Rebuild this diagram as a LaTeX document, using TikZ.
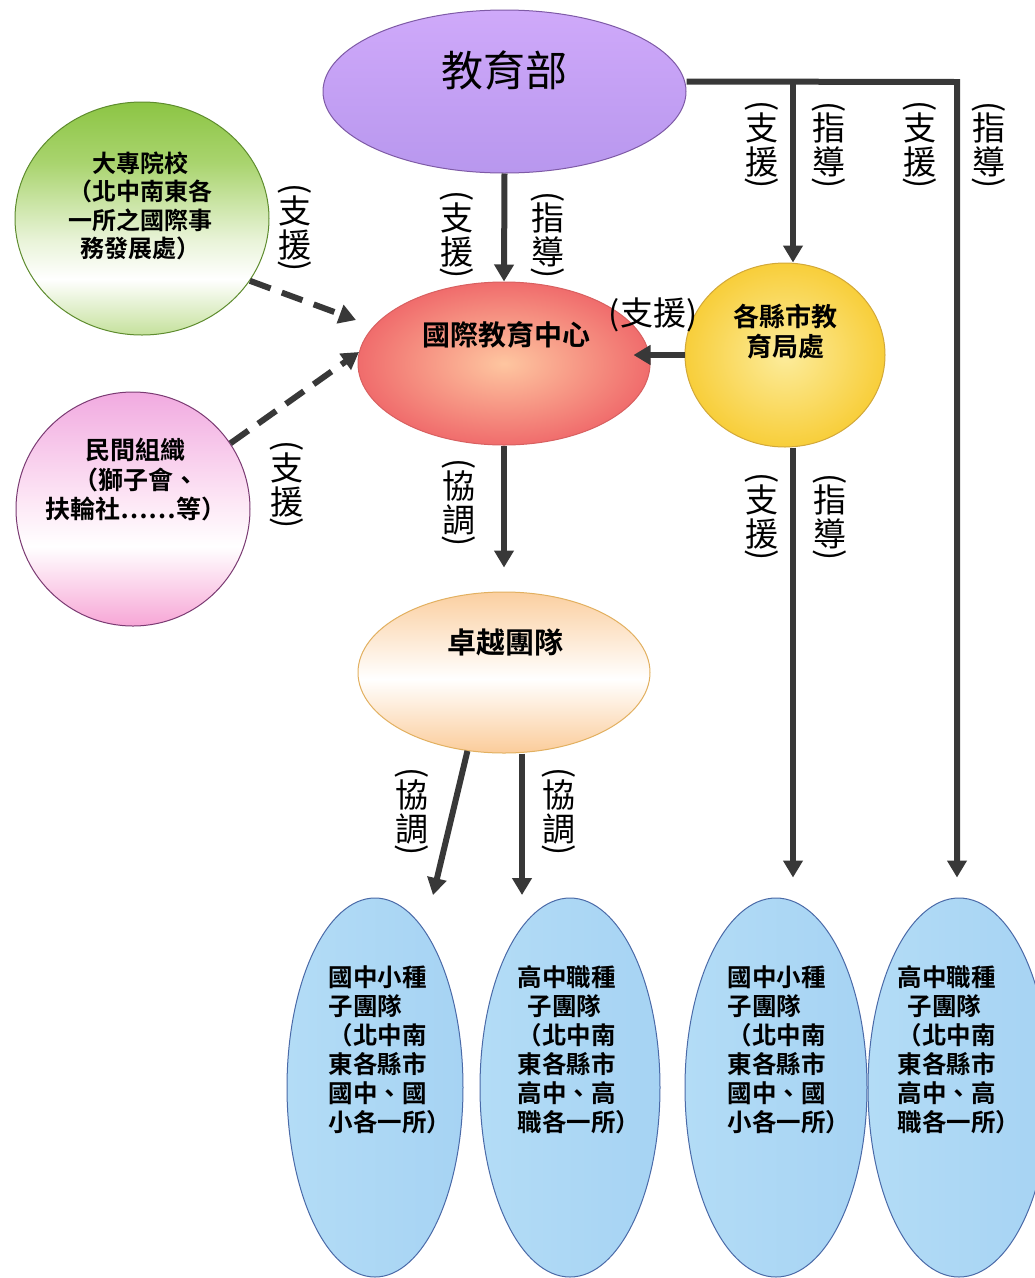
\documentclass[tikz,border=0pt]{standalone}
\usepackage{fontspec}
\usepackage{graphicx}
\usetikzlibrary{shapes.geometric,arrows.meta,calc}
\newfontfamily\cjk{Noto Sans CJK TC}
\newfontfamily\cjkb{Noto Sans CJK TC Bold}
\definecolor{linec}{HTML}{383838}
\definecolor{jybT}{HTML}{CFA9FA}
\definecolor{jybBot}{HTML}{B897EE}
\definecolor{jybB}{HTML}{7E5AA6}
\definecolor{dzA}{HTML}{8CC544}
\definecolor{dzA2}{HTML}{A9D46E}
\definecolor{dzB}{HTML}{EAF4DA}
\definecolor{dzC}{HTML}{C5E19C}
\definecolor{dzBd}{HTML}{5E8C2E}
\definecolor{gjIn}{HTML}{FEC6A0}
\definecolor{gjOut}{HTML}{F06C6C}
\definecolor{gjBd}{HTML}{D86060}
\definecolor{jkIn}{HTML}{FCEC9C}
\definecolor{jkOut}{HTML}{F8CE3A}
\definecolor{jkBd}{HTML}{D2A838}
\definecolor{mjA}{HTML}{F1AAE0}
\definecolor{mjB}{HTML}{FDE6F5}
\definecolor{mjC}{HTML}{F7A6D6}
\definecolor{mjBd}{HTML}{7A3A72}
\definecolor{zyA}{HTML}{FBCFA0}
\definecolor{zyC}{HTML}{FBCC9A}
\definecolor{zyBd}{HTML}{E2B060}
\definecolor{blL}{HTML}{B3DCF6}
\definecolor{blM}{HTML}{DCF3FD}
\definecolor{blR}{HTML}{A6D3F3}
\definecolor{blBd}{HTML}{4A6AA8}
\pgfdeclareverticalshading{dzsh}{100bp}{color(0bp)=(dzC); color(25bp)=(dzC); color(37bp)=(white); color(45bp)=(dzB); color(62bp)=(dzA2); color(75bp)=(dzA); color(100bp)=(dzA)}
\pgfdeclareverticalshading{mjsh}{100bp}{color(0bp)=(mjC); color(25bp)=(mjC); color(42bp)=(white); color(52bp)=(mjB); color(75bp)=(mjA); color(100bp)=(mjA)}
\pgfdeclareverticalshading{zysh}{100bp}{color(0bp)=(zyC); color(25bp)=(zyC); color(48bp)=(white); color(75bp)=(zyA); color(100bp)=(zyA)}
\newcommand\vl[2]{\vbox{\offinterlineskip\halign{\hfil##\hfil\cr
  \rotatebox{-90}{(}\cr\noalign{\kern1pt}
  #1\cr\noalign{\kern3pt}
  #2\cr\noalign{\kern1pt}
  \rotatebox{-90}{)}\cr}}}
\tikzset{
  bub/.style={ellipse, inner sep=0pt, line width=1pt},
  arr/.style={draw=linec, line width=6pt, -{Triangle[length=17pt,width=19pt]}},
  darr/.style={arr, dash pattern=on 22pt off 12pt},
  lab/.style={inner sep=0pt, font=\cjk\fontsize{33}{36}\selectfont},
  btxt/.style={inner sep=0pt, align=center},
  seedtxt/.style={inner sep=0pt, align=left, font=\cjkb\fontsize{24.5}{29}\selectfont},
}
\begin{document}
\begin{tikzpicture}[x=1pt,y=-1pt]
\fill[white] (0,0) rectangle (1035,1278);
\useasboundingbox (0,0) rectangle (1035,1278);
% bubbles
\node[bub, draw=jybB, top color=jybT, bottom color=jybBot, minimum width=363pt, minimum height=163pt] (jyb) at (504.5,91.5) {};
\node[bub, draw=dzBd, shade, shading=dzsh, minimum width=254pt, minimum height=233pt] (dz) at (142,218.5) {};
\node[bub, draw=gjBd, inner color=gjIn, outer color=gjOut, minimum width=292pt, minimum height=163pt] (gj) at (504,363.5) {};
\node[bub, draw=jkBd, inner color=jkIn, outer color=jkOut, minimum width=200pt, minimum height=184pt] (jk) at (785,355) {};
\node[bub, draw=mjBd, shade, shading=mjsh, minimum width=234pt, minimum height=234pt] (mj) at (133,509) {};
\node[bub, draw=zyBd, shade, shading=zysh, minimum width=292pt, minimum height=161pt] (zy) at (504,672.5) {};
\node[bub, draw=blBd, left color=blL, middle color=blM, right color=blR, minimum width=176pt, minimum height=379pt] (e1) at (375,1087.5) {};
\node[bub, draw=blBd, left color=blL, middle color=blM, right color=blR, minimum width=180pt, minimum height=379pt] (e2) at (570,1087.5) {};
\node[bub, draw=blBd, left color=blL, middle color=blM, right color=blR, minimum width=182pt, minimum height=379pt] (e3) at (776,1087.5) {};
\node[bub, draw=blBd, left color=blL, middle color=blM, right color=blR, minimum width=182pt, minimum height=379pt] (e4) at (959,1087.5) {};
% texts in bubbles
\node[btxt, font=\cjk\fontsize{42}{46}\selectfont] (jyb-t) at (504,70) {教育部};
\node[btxt, font=\cjkb\fontsize{24}{28.5}\selectfont] (dz-t) at (140,206) {大專院校\\（北中南東各\\一所之國際事\\務發展處）};
\node[btxt, font=\cjkb\fontsize{28}{32}\selectfont] (gj-t) at (506,335) {國際教育中心};
\node[btxt, font=\cjkb\fontsize{26}{30}\selectfont] (jk-t) at (785,332) {各縣市教\\育局處};
\node[btxt, font=\cjkb\fontsize{25}{29.5}\selectfont] (mj-t) at (136,480) {民間組織\\（獅子會、\\扶輪社……等）};
\node[btxt, font=\cjkb\fontsize{29}{33}\selectfont] (zy-t) at (505,642) {卓越團隊};
\node[seedtxt] (e1-t) at (390,1050) {國中小種\\子團隊\\（北中南\\東各縣市\\國中、國\\小各一所）};
\node[seedtxt] (e2-t) at (579,1050) {高中職種\\\hspace*{10pt}子團隊\\（北中南\\東各縣市\\高中、高\\職各一所）};
\node[seedtxt] (e3-t) at (789,1050) {國中小種\\子團隊\\（北中南\\東各縣市\\國中、國\\小各一所）};
\node[seedtxt] (e4-t) at (959,1050) {高中職種\\\hspace*{10pt}子團隊\\（北中南\\東各縣市\\高中、高\\職各一所）};
% connector helper points
\coordinate (c1) at (793,82);
\coordinate (c2) at (957,82);
\coordinate (d1) at (356,320);
\coordinate (d2) at (359,352);
\coordinate (t1) at (433,895);
\coordinate (t2) at (522,895);
% connectors
\draw[arr] (jyb.south) -- (gj.north);
\draw[arr, shorten >=20pt] ([yshift=10pt]jyb.east) -- (c2) -- (c2 |- e4.north);
\draw[arr] (c1) -- (c1 |- jk.north);
\draw[arr, shorten >=20pt] (c1 |- jk.south) -- (c1 |- e3.north);
\draw[arr, shorten >=-17pt] (jk.west) -- (jk.west -| gj.east);
\draw[arr, shorten >=24pt] (gj.south) -- (zy.north);
\draw[arr] (zy.245) -- (t1);
\draw[arr] (zy.south -| t2) -- (t2);
\draw[darr] (dz.330) -- (d1);
\draw[darr] (mj.34) -- (d2);
% labels
\node[lab] (l1) at (457,235) {\vl{支}{援}};
\node[lab] (l2) at (548,235) {\vl{指}{導}};
\node[lab] (l3) at (762,145) {\vl{支}{援}};
\node[lab] (l4) at (829,145) {\vl{指}{導}};
\node[lab] (l5) at (920,145) {\vl{支}{援}};
\node[lab] (l6) at (989,145) {\vl{指}{導}};
\node[lab] (l7) at (653,315) {(支援)};
\node[lab] (l8) at (295,228) {\vl{支}{援}};
\node[lab] (l9) at (287,485) {\vl{支}{援}};
\node[lab] (l10) at (459,503) {\vl{協}{調}};
\node[lab] (l11) at (762,517) {\vl{支}{援}};
\node[lab] (l12) at (830,517) {\vl{指}{導}};
\node[lab] (l13) at (412,812) {\vl{協}{調}};
\node[lab] (l14) at (559,812) {\vl{協}{調}};
\end{tikzpicture}
\end{document}
